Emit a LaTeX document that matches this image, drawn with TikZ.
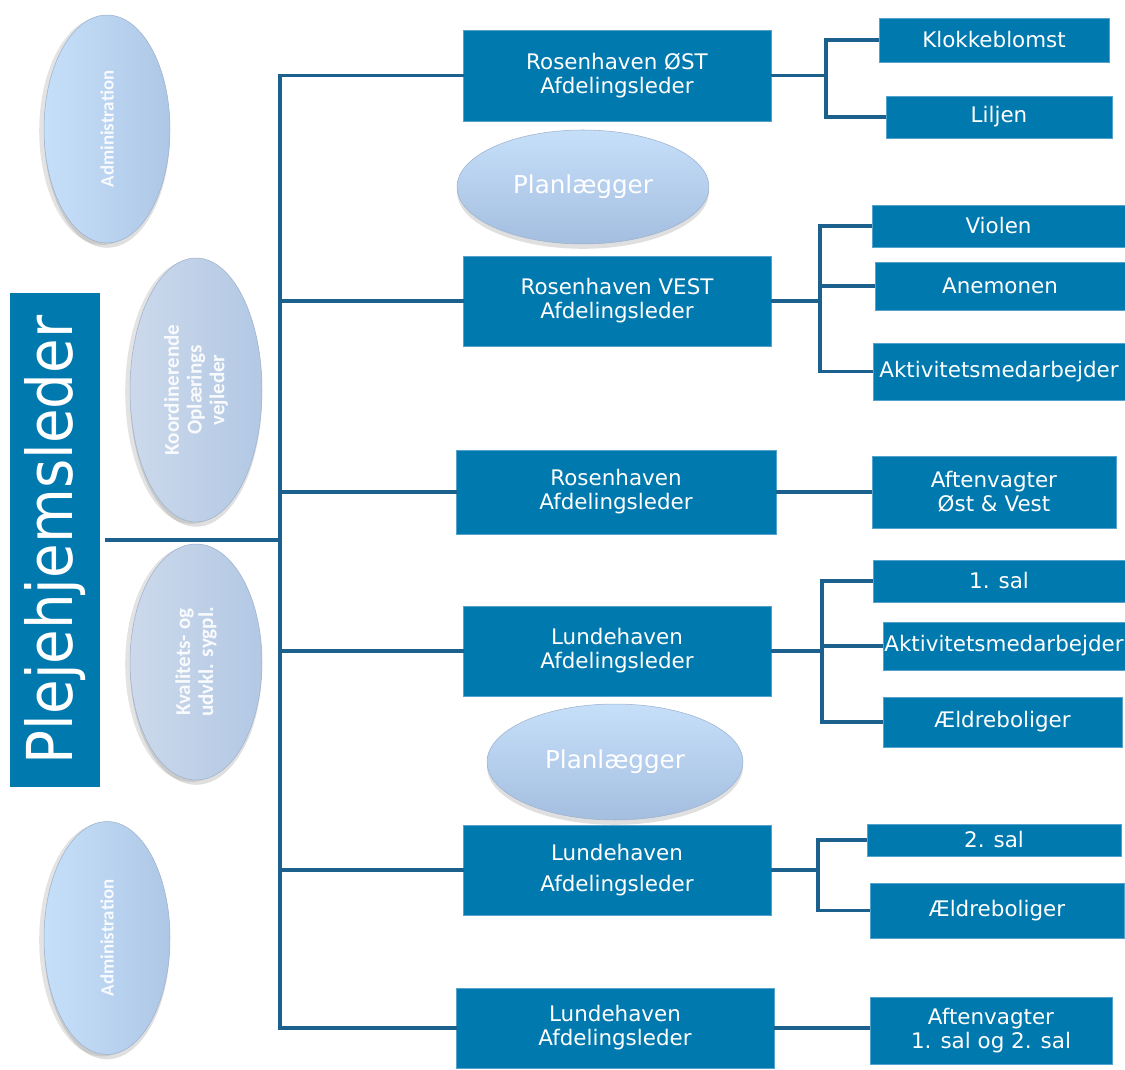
\documentclass[tikz,border=0pt]{standalone}
\usepackage{fontspec}
\setmainfont{DejaVu Sans}
\newfontfamily\ovalfont{Carlito}
\newfontfamily\lederfont[FakeStretch=0.89]{DejaVu Sans}
\usepackage{tikz}
\usetikzlibrary{arrows,positioning,shapes,shapes.geometric,shadows,calc}

\definecolor{boxblue}{RGB}{0,121,174}
\definecolor{boxedge}{RGB}{84,162,206}
\definecolor{linkblue}{RGB}{28,96,142}
\definecolor{ovallight}{RGB}{198,223,249}
\definecolor{ovaldark}{RGB}{164,190,224}
\definecolor{sidedark}{RGB}{174,199,230}
\definecolor{greylight}{RGB}{204,217,235}
\definecolor{greydark}{RGB}{178,200,228}

\begin{document}
\begin{tikzpicture}[x=0.02cm,y=-0.02cm]
  \useasboundingbox (0,0) rectangle (1125,1070);
  \tikzstyle{LederStyle}=[rectangle,fill=boxblue,text=white,inner sep=0pt,
    font=\lederfont\fontsize{36}{40}\selectfont]
  \tikzstyle{AfdStyle}=[rectangle,fill=boxblue,draw=boxedge,line width=0.5pt,
    text=white,align=center,inner sep=0pt,font=\fontsize{12.2}{13.6}\selectfont]
  \tikzstyle{UnitStyle}=[AfdStyle]
  \tikzstyle{OvalStyle}=[ellipse,inner sep=0pt,text=white,align=center,
    top color=ovallight,bottom color=ovaldark,draw=ovaldark!80!gray,line width=0.3pt,
    drop shadow={opacity=0.25,shadow xshift=0pt,shadow yshift=-0.5ex}]
  \tikzstyle{SideOval}=[OvalStyle,rotate=90,left color=ovallight,right color=sidedark,
    text opacity=0.9,
    drop shadow={opacity=0.22,shadow xshift=-0.5ex,shadow yshift=-0.2ex},
    font=\ovalfont\bfseries\fontsize{12}{13}\selectfont]
  \tikzstyle{GreyOval}=[SideOval,left color=greylight,right color=greydark]
  \tikzstyle{LineStyle}=[draw=linkblue,line width=2.2pt]

  % leder og staber
  \node[LederStyle,rotate=90,minimum width=9.9cm,minimum height=1.8cm] (leder) at (55,540) {Plejehjemsleder};
  \node[SideOval,minimum width=4.56cm,minimum height=2.52cm,
    font=\ovalfont\bfseries\fontsize{10.7}{12}\selectfont] (adm1) at (107,129) {Administration};
  \node[GreyOval,minimum width=5.28cm,minimum height=2.64cm] (koord) at (196,390) {Koordinerende\\Oplærings\\vejleder};
  \node[GreyOval,minimum width=4.72cm,minimum height=2.64cm] (kval) at (196,662) {Kvalitets- og\\udvkl. sygpl.};
  \node[SideOval,minimum width=4.66cm,minimum height=2.52cm,
    font=\ovalfont\bfseries\fontsize{10.7}{12}\selectfont] (adm2) at (107,938) {Administration};

  % afdelinger
  \node[AfdStyle,minimum width=6.16cm,minimum height=1.82cm] (m1) at (617,75.5) {Rosenhaven ØST\\Afdelingsleder};
  \node[AfdStyle,minimum width=6.16cm,minimum height=1.80cm] (m2) at (617,301) {Rosenhaven VEST\\Afdelingsleder};
  \node[AfdStyle,minimum width=6.40cm,minimum height=1.68cm] (m3) at (616,492) {Rosenhaven\\Afdelingsleder};
  \node[AfdStyle,minimum width=6.16cm,minimum height=1.80cm] (m4) at (617,651) {Lundehaven\\Afdelingsleder};
  \node[AfdStyle,minimum width=6.16cm,minimum height=1.80cm,
    font=\fontsize{12.2}{18}\selectfont] (m5) at (617,870) {Lundehaven\\Afdelingsleder};
  \node[AfdStyle,minimum width=6.36cm,minimum height=1.60cm] (m6) at (615,1028) {Lundehaven\\Afdelingsleder};

  \node[OvalStyle,minimum width=5.04cm,minimum height=2.28cm,
    font=\fontsize{14}{16}\selectfont] (plan1) at (583,187) {Planlægger};
  \node[OvalStyle,minimum width=5.12cm,minimum height=2.32cm,
    font=\fontsize{14}{16}\selectfont] (plan2) at (615,762) {Planlægger};

  % enheder
  \node[UnitStyle,minimum width=4.60cm,minimum height=0.88cm] (klokke) at (994,40) {Klokkeblomst};
  \node[UnitStyle,minimum width=4.52cm,minimum height=0.84cm] (liljen) at (999,117) {Liljen};
  \node[UnitStyle,minimum width=5.06cm,minimum height=0.84cm] (violen) at (998.5,226) {Violen};
  \node[UnitStyle,minimum width=5.00cm,minimum height=0.96cm] (anemonen) at (1000,286) {Anemonen};
  \node[UnitStyle,minimum width=5.04cm,minimum height=1.14cm] (aktiv1) at (999,371.5) {Aktivitetsmedarbejder};
  \node[UnitStyle,minimum width=4.88cm,minimum height=1.44cm] (aften1) at (994,492) {Aftenvagter\\Øst \& Vest};
  \node[UnitStyle,minimum width=5.04cm,minimum height=0.84cm] (sal1) at (999,581) {1. sal};
  \node[UnitStyle,minimum width=4.84cm,minimum height=0.96cm] (aktiv2) at (1004,646) {Aktivitetsmedarbejder};
  \node[UnitStyle,minimum width=4.78cm,minimum height=1.00cm] (aeldre1) at (1002.5,722) {Ældreboliger};
  \node[UnitStyle,minimum width=5.08cm,minimum height=0.64cm] (sal2) at (994,840) {2. sal};
  \node[UnitStyle,minimum width=5.08cm,minimum height=1.10cm] (aeldre2) at (997,910.5) {Ældreboliger};
  \node[UnitStyle,minimum width=4.84cm,minimum height=1.34cm] (aften2) at (991,1030.5) {Aftenvagter\\1. sal og 2. sal};

  % stamme
  \coordinate (hub) at (280,540);
  \draw[LineStyle,shorten <=2.5pt] (leder.south) -- (hub);
  \foreach \n in {m1,m2,m3,m4,m5,m6}
    \draw[LineStyle,shorten >=-1] (hub) |- (\n.west);

  % grene
  \coordinate (j1) at (826,75.5);
  \coordinate (j2) at (820,301);
  \coordinate (j4) at (822,651);
  \coordinate (j5) at (818,870);
  \draw[LineStyle] (m1.east) -- (j1);
  \draw[LineStyle] (m2.east) -- (j2);
  \draw[LineStyle] (m4.east) -- (j4);
  \draw[LineStyle] (m5.east) -- (j5);
  \foreach \n in {klokke,liljen}
    \draw[LineStyle] (j1) |- (\n.west);
  \foreach \n in {violen,anemonen,aktiv1}
    \draw[LineStyle] (j2) |- (\n.west);
  \foreach \n in {sal1,aktiv2,aeldre1}
    \draw[LineStyle] (j4) |- (\n.west);
  \foreach \n in {sal2,aeldre2}
    \draw[LineStyle] (j5) |- (\n.west);
  \draw[LineStyle] (m3.east) -- (aften1.west);
  \draw[LineStyle] (m6.east) -- (m6.east -| aften2.west);
\end{tikzpicture}
\end{document}
